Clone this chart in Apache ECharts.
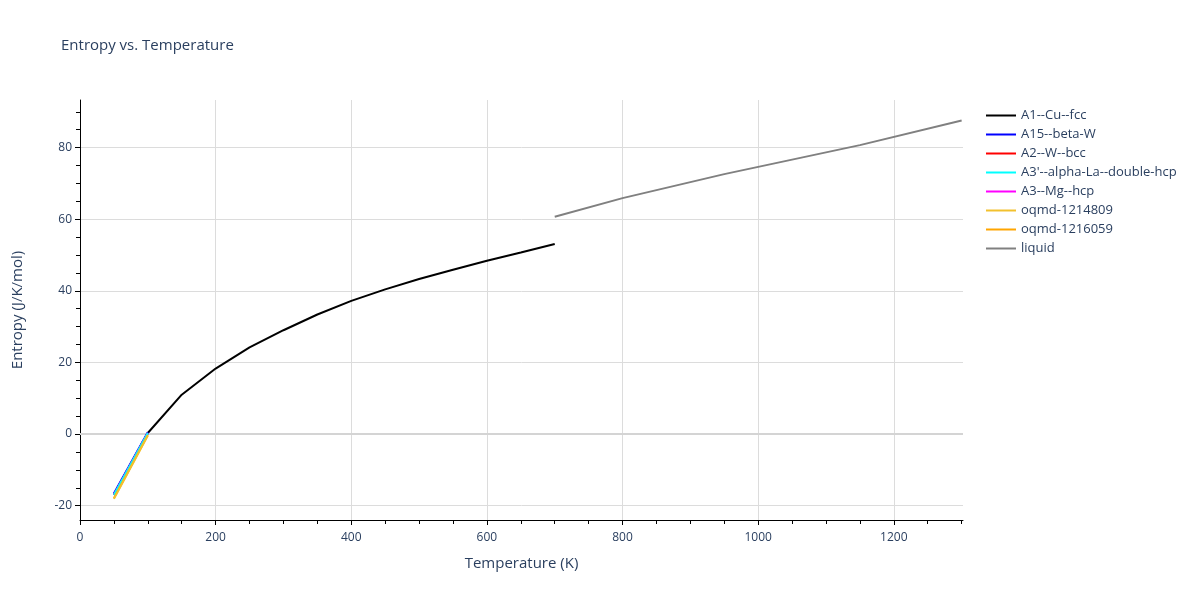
<!DOCTYPE html>
<html>
<head>
<meta charset="utf-8">
<script src="https://cdn.jsdelivr.net/npm/echarts@6/dist/echarts.min.js"></script>
<style>
  html, body { margin: 0; padding: 0; background: #fff; }
  #chart { width: 1200px; height: 600px; }
</style>
</head>
<body>
<div id="chart"></div>
<script>
// temperatures (K)
var tLow = [50, 100]
var tFcc = [50, 100, 150, 200, 250, 300, 350, 400, 450, 500, 550, 600, 650, 700]
var tLiquid = [700, 800, 950, 1150, 1300]

// entropy (J/K/mol)
var sFcc = [-17.0, 0.3, 11.0, 18.3, 24.2, 29.0, 33.4, 37.2, 40.4, 43.3, 45.9, 48.4, 50.7, 53.1]
var sBetaW = [-16.6, 0.5]
var sBcc = [-16.9, 0.3]
var sDhcp = [-17.0, 0.3]
var sHcp = [-17.0, 0.3]
var sOqmd1 = [-18.1, -0.4]
var sOqmd2 = [-17.9, -0.3]
var sLiquid = [60.7, 65.9, 72.6, 80.7, 87.6]

var names = ['A1--Cu--fcc', 'A15--beta-W', 'A2--W--bcc', "A3'--alpha-La--double-hcp",
  'A3--Mg--hcp', 'oqmd-1214809', 'oqmd-1216059', 'liquid']
var colors = ['#000000', '#0000ff', '#ff0000', '#00ffff', '#ff00ff', '#f2c12e', '#ffa500', '#808080']
// drawing order (higher on top)
var layers = [2, 4, 3, 7, 6, 9, 8, 10]

// axis ticks
var xMajor = [0, 200, 400, 600, 800, 1000, 1200]
var xMinor = [50, 100, 150, 250, 300, 350, 450, 500, 550, 650, 700, 750, 850, 900, 950,
  1050, 1100, 1150, 1250, 1300]
var yMajor = [-20, 0, 20, 40, 60, 80]
var yMinor = [-15, -10, -5, 5, 10, 15, 25, 30, 35, 45, 50, 55, 65, 70, 75, 85, 90]

var X_MIN = 0, X_MAX = 1302
var Y_MIN = -24, Y_MAX = 93.3

var textColor = '#2a3f5f'
var gridColor = '#dcdcdc'
var font = '"Open Sans", Verdana, Arial, sans-serif'

function pairs (xs, ys) {
  return xs.map(function (x, i) { return [x, ys[i]] })
}

var seriesData = [
  pairs(tFcc, sFcc),
  pairs(tLow, sBetaW),
  pairs(tLow, sBcc),
  pairs(tLow, sDhcp),
  pairs(tLow, sHcp),
  pairs(tLow, sOqmd1),
  pairs(tLow, sOqmd2),
  pairs(tLiquid, sLiquid)
]

var series = seriesData.map(function (d, i) {
  var s = {
    name: names[i],
    type: 'line',
    data: d,
    symbol: 'none',
    color: colors[i],
    lineStyle: { width: 2, color: colors[i] },
    z: layers[i]
  }
  if (i === 0) {
    // zero line
    s.markLine = {
      silent: true,
      symbol: 'none',
      z: 1,
      label: { show: false },
      lineStyle: { color: '#d4d4d4', width: 2, type: 'solid' },
      data: [{ yAxis: 0 }]
    }
  }
  return s
})

function plain (v) { return String(v) }

var chart = echarts.init(document.getElementById('chart'), null, { renderer: 'canvas' })

chart.setOption({
  animation: false,
  backgroundColor: '#fff',
  textStyle: { fontFamily: font },
  title: {
    text: 'Entropy vs. Temperature',
    left: 56,
    top: 33,
    textStyle: { fontFamily: font, fontSize: 15, fontWeight: 'normal', color: textColor }
  },
  legend: {
    orient: 'vertical',
    left: 986,
    top: 106,
    padding: 0,
    icon: 'rect',
    itemWidth: 30,
    itemHeight: 2,
    itemGap: 0,
    data: names,
    textStyle: { fontFamily: font, fontSize: 13, color: textColor, lineHeight: 19 }
  },
  grid: { left: 80, right: 237, top: 100, bottom: 80, containLabel: false },
  xAxis: [{
    type: 'value',
    position: 'bottom',
    min: X_MIN,
    max: X_MAX,
    name: 'Temperature (K)',
    nameLocation: 'middle',
    nameGap: 36,
    nameTextStyle: { fontFamily: font, fontSize: 15, color: textColor },
    axisLine: { show: true, onZero: false, lineStyle: { color: '#000', width: 1 } },
    axisTick: { show: true, length: 5, customValues: xMajor, lineStyle: { color: '#000' } },
    axisLabel: { customValues: xMajor, formatter: plain, margin: 12, fontSize: 12, color: textColor, fontFamily: font },
    splitLine: { show: true, lineStyle: { color: gridColor, width: 1 } }
  }, {
    type: 'value',
    position: 'bottom',
    min: X_MIN,
    max: X_MAX,
    axisLine: { show: false, onZero: false },
    axisTick: { show: true, length: 4, customValues: xMinor, lineStyle: { color: '#000' } },
    axisLabel: { show: false },
    splitLine: { show: false }
  }],
  yAxis: [{
    type: 'value',
    position: 'left',
    min: Y_MIN,
    max: Y_MAX,
    name: 'Entropy (J/K/mol)',
    nameLocation: 'middle',
    nameGap: 55,
    nameTextStyle: { fontFamily: font, fontSize: 15, color: textColor },
    axisLine: { show: true, onZero: false, lineStyle: { color: '#000', width: 1 } },
    axisTick: { show: true, length: 5, customValues: yMajor, lineStyle: { color: '#000' } },
    axisLabel: { customValues: yMajor, formatter: plain, margin: 8, fontSize: 12, color: textColor, fontFamily: font },
    splitLine: { show: true, lineStyle: { color: gridColor, width: 1 } }
  }, {
    type: 'value',
    position: 'left',
    min: Y_MIN,
    max: Y_MAX,
    axisLine: { show: false, onZero: false },
    axisTick: { show: true, length: 4, customValues: yMinor, lineStyle: { color: '#000' } },
    axisLabel: { show: false },
    splitLine: { show: false }
  }],
  series: series
})
</script>
</body>
</html>
